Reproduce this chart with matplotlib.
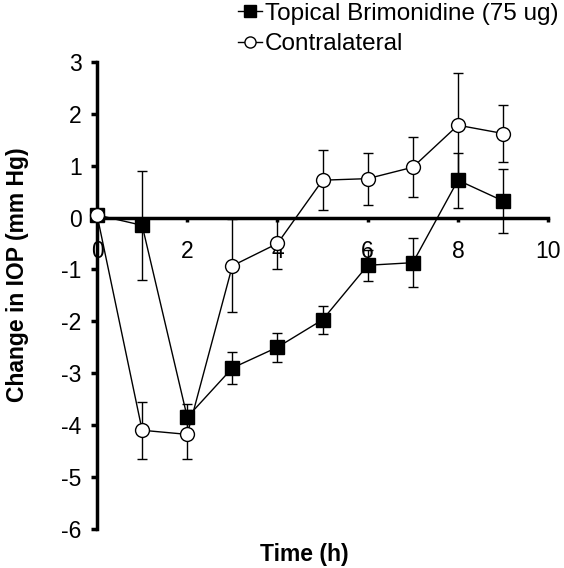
import matplotlib.pyplot as plt
from matplotlib.lines import Line2D

plt.rcParams['font.family'] = ['Liberation Sans', 'DejaVu Sans']
plt.rcParams['axes.unicode_minus'] = False

# data
hours = [0, 1, 2, 3, 4, 5, 6, 7, 8, 9]

brim_mean = [0.05, -0.15, -3.85, -2.9, -2.5, -1.97, -0.92, -0.87, 0.72, 0.32]
brim_err = [0.0, 1.05, 0.25, 0.3, 0.28, 0.27, 0.3, 0.47, 0.53, 0.62]

contra_mean = [0.05, -4.1, -4.18, -0.93, -0.5, 0.72, 0.75, 0.97, 1.78, 1.62]
contra_err = [0.0, 0.55, 0.47, 0.9, 0.5, 0.58, 0.5, 0.58, 1.0, 0.54]

series_names = ['Topical Brimonidine (75 ug)', 'Contralateral']


def main():
    fig = plt.figure(figsize=(5.64, 5.68), dpi=100)
    ax = fig.add_axes([0.172, 0.069, 0.80, 0.822])

    ax.errorbar(hours, brim_mean, yerr=brim_err, color='black', lw=1,
                marker='s', ms=9.5, mfc='black', mec='black',
                elinewidth=1, capsize=3.5, capthick=1,
                clip_on=False, zorder=3)
    ax.errorbar(hours, contra_mean, yerr=contra_err, color='black', lw=1,
                marker='o', ms=10, mfc='white', mec='black', mew=1,
                elinewidth=1, capsize=3.5, capthick=1,
                clip_on=False, zorder=4)

    ax.set_xlim(0, 10)
    ax.set_ylim(-6, 3)
    ax.set_xticks(range(0, 11, 2))
    ax.set_yticks(range(-6, 4))

    # achsen kreuzen sich bei 0
    ax.spines['left'].set_position(('data', 0))
    ax.spines['bottom'].set_position(('data', 0))
    ax.spines['right'].set_visible(False)
    ax.spines['top'].set_visible(False)
    ax.spines['left'].set_linewidth(2.5)
    ax.spines['bottom'].set_linewidth(2.5)
    ax.tick_params(axis='y', direction='out', width=2.5, length=4,
                   labelsize=16.5, pad=7)
    ax.tick_params(axis='x', direction='out', width=2.5, length=3,
                   labelsize=16.5, pad=13)

    ax.set_xlabel('Time (h)', fontsize=16.5, fontweight='bold')
    ax.xaxis.set_label_coords(0.46, -0.03)
    ax.set_ylabel('Change in IOP (mm Hg)', fontsize=16.5, fontweight='bold')
    ax.yaxis.set_label_coords(-0.15, 0.545)

    # legende ohne fehlerbalken
    handles = [
        Line2D([], [], color='black', lw=1, marker='s', ms=8,
               mfc='black', mec='black'),
        Line2D([], [], color='black', lw=1, marker='o', ms=8,
               mfc='white', mec='black'),
    ]
    fig.legend(handles, series_names, loc='upper left',
               bbox_to_anchor=(0.405, 1.012), frameon=False, fontsize=17.5,
               handlelength=1.0, handletextpad=0.1, labelspacing=0.35,
               borderaxespad=0)

    fig.savefig('out.png', dpi=100)


if __name__ == '__main__':
    main()
